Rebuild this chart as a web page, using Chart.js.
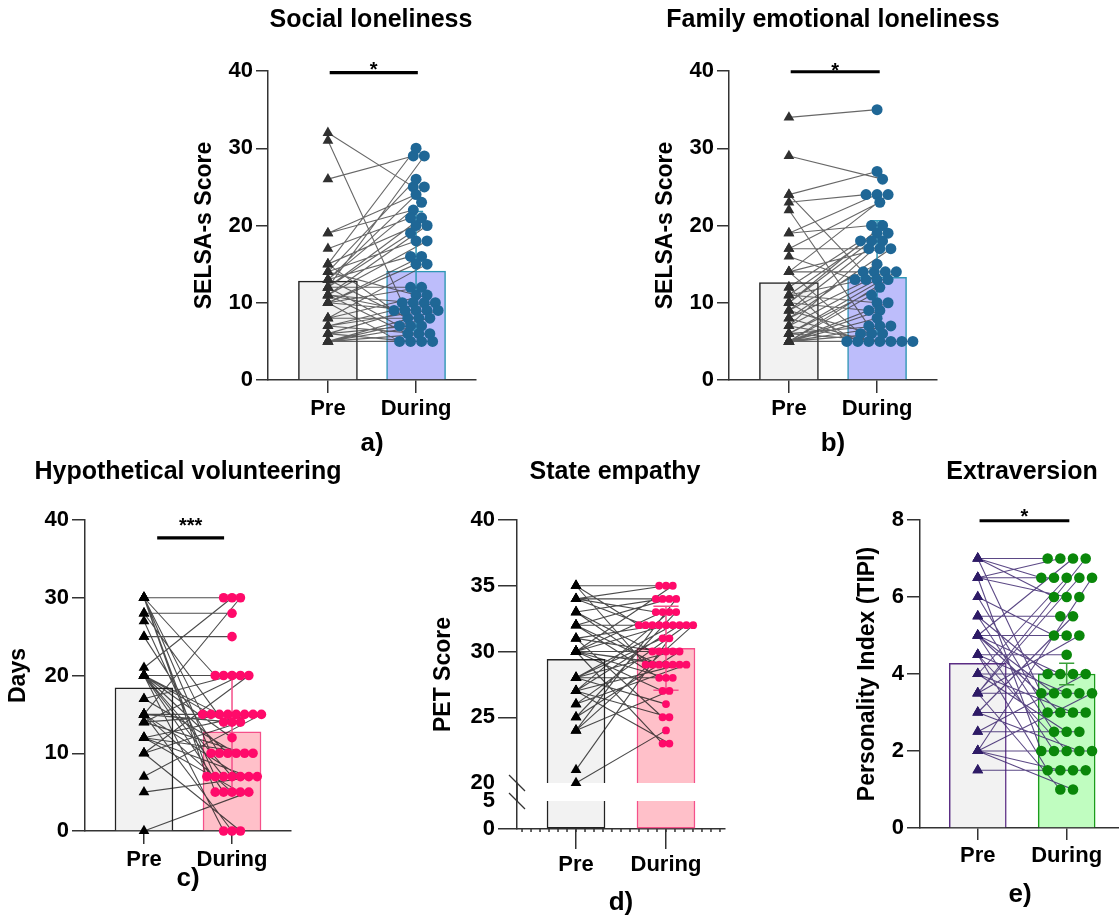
<!DOCTYPE html>
<html>
<head>
<meta charset="utf-8">
<script src="https://cdn.jsdelivr.net/npm/chart.js@4.4.1/dist/chart.umd.min.js"></script>
<style>
html,body{margin:0;padding:0;background:#fff;width:1119px;height:917px;overflow:hidden;position:relative;}
canvas{position:absolute;}
</style>
</head>
<body>
<canvas id="ca"></canvas>
<canvas id="cb"></canvas>
<canvas id="cc"></canvas>
<canvas id="cd"></canvas>
<canvas id="ce"></canvas>
<script>
// ---------------- DATA ----------------
const categories = ['Pre', 'During'];

// a) Social loneliness (paired: socialPre[i] -> socialDuring[i])
const socialPre    = [32,31,26,19,19,17,15,15,15,14,14,14,13,13,13,13,12,12,12,12,12,11,11,11,11,11,10,10,10,10,10,8,8,8,7,7,7,6,6,6,5,5,5,5,5,5];
const socialDuring = [25,10,29,24,22,21,30,20,9,26,18,11,25,23,8,16,29,21,19,7,12,20,18,10,6,9,16,15,9,5,12,15,11,8,10,9,6,10,7,5,8,7,6,9,5,5];
const socialMeans  = [12.8, 14.1];
const socialErr    = [null, 7.7];
const socialSig    = [0.02, 1.02, 39.8];

// b) Family emotional loneliness
const familyPre    = [34,29,24,24,23,22,19,19,17,17,16,14,14,14,14,12,12,11,11,11,10,10,10,10,9,9,9,8,8,8,7,7,7,6,6,6,6,5,5,5,5,5,5,5,5,5];
const familyDuring = [35,26,27,14,24,7,24,20,17,23,13,17,14,24,6,18,5,19,13,10,20,18,9,5,19,15,6,17,14,5,18,13,5,14,12,7,5,13,11,10,9,8,7,6,5,5];
const familyMeans  = [12.6, 13.3];
const familyErr    = [null, 7.3];
const familySig    = [0.02, 1.03, 39.9];

// c) Hypothetical volunteering (days)
const volPre    = [30,30,30,30,30,30,28,28,27,25,25,21,20,20,20,20,20,20,20,20,20,17,17,15,15,15,15,15,15,15,14,14,14,12,12,12,12,10,10,10,7,5,0];
const volDuring = [30,20,15,10,7,5,28,14,7,25,10,30,20,15,15,10,7,7,5,0,12,20,10,30,15,15,14,7,5,0,20,15,10,15,7,10,5,20,14,0,15,7,5];
const volMeans  = [18.4, 12.75];
const volErr    = [null, 7.4];
const volSig    = [0.15, 0.91, 37.7];

// d) State empathy (PET score)
const empPre    = [35,35,35,34,34,34,34,33,33,33,32,32,32,32,31,31,31,30,30,30,30,30,30,30,30,30,28,28,28,28,28,27,27,27,27,27,26,26,25,25,24,24,24,21,20];
const empDuring = [35,29,32,34,35,32,33,34,29,30,32,34,28,29,30,32,25,35,33,32,30,29,29,28,27,23,32,30,28,31,26,33,29,25,23,32,32,29,33,30,27,32,34,31,24];
const empMeans  = [29.4, 30.25];
const empErr    = [null, 3.2];

// e) Extraversion (TIPI)
const extraPre    = [7,7,7,7,6.5,6.5,6.5,6.5,6,6,5.5,5.5,5.5,5,5,5,5,5,5,4.5,4.5,4.5,4.5,4,4,4,4,3.5,3.5,3.5,3.5,3.5,3,3,3,2.5,2.5,2,2,2,2,2,2,1.5,1.5];
const extraDuring = [7,6.5,6,3.5,6.5,7,6,2,5,3,5.5,4,2.5,5,7,4,3.5,3,2,4.5,3.5,2,1.5,4,6.5,3,2.5,3.5,6.5,7,5,1,3,5.5,2,2.5,4,2,6.5,6,3.5,1.5,1,1.5,1.5];
const extraMeans  = [4.28, 4.0];
const extraErr    = [null, 0.28];
const extraSig    = [0.02, 1.03, 7.98];

// ---------------- LAYOUT / STYLE ----------------
const FAM = "'Liberation Sans', Arial, Helvetica, sans-serif";
Chart.defaults.font.family = FAM;
Chart.defaults.animation = false;

const panels = [
  {id:'ca', left:191, top:0, w:360, h:459, yW:77, padR:75, xH:79, ytl:12, xtl:13, titlePad:{top:5,bottom:36},
   title:'Social loneliness', yTitle:'SELSA-s Score', letter:'a)',
   pre:socialPre, during:socialDuring, means:socialMeans, err:socialErr, sig:socialSig, star:'*', starGap:7,
   xMin:-0.68, xMax:1.68, yMin:0, yMax:40, yStep:10, spacing:11, pxPerY:7.725, pxPerX:88, dotR:5.5, triR:6.2, cap:0.08, barW:59,
   colors:{preFill:'#f2f2f2', preBorder:'#222', durFill:'#bdbdfb', durBorder:'#2f97b5', tri:'#303030', dot:'#1f6796', line:'rgba(60,60,60,0.78)', err:'#2f97b5'}},
  {id:'cb', left:652, top:0, w:362, h:459, yW:77, padR:77, xH:79, ytl:12, xtl:13, titlePad:{top:5,bottom:36},
   title:'Family emotional loneliness', yTitle:'SELSA-s Score', letter:'b)',
   pre:familyPre, during:familyDuring, means:familyMeans, err:familyErr, sig:familySig, star:'*', starGap:5,
   xMin:-0.68, xMax:1.68, yMin:0, yMax:40, yStep:10, spacing:11, pxPerY:7.725, pxPerX:88, dotR:5.5, triR:6.2, cap:0.08, barW:59,
   colors:{preFill:'#f2f2f2', preBorder:'#222', durFill:'#bdbdfb', durBorder:'#2f97b5', tri:'#303030', dot:'#1f6796', line:'rgba(60,60,60,0.78)', err:'#2f97b5'}},
  {id:'cc', left:5, top:452, w:366, h:442, yW:80, padR:80, xH:63, ytl:13, xtl:13, titlePad:{top:5,bottom:33},
   title:'Hypothetical volunteering', yTitle:'Days', letter:'c)',
   pre:volPre, during:volDuring, means:volMeans, err:volErr, sig:volSig, star:'***', starGap:16,
   xMin:-0.67, xMax:1.67, yMin:0, yMax:40, yStep:10, spacing:8.4, pxPerY:7.775, pxPerX:88, dotR:4.8, triR:6.2, cap:0.08, barW:58,
   colors:{preFill:'#f2f2f2', preBorder:'#222', durFill:'#ffc0c9', durBorder:'#f5508a', tri:'#000', dot:'#ff0a6a', line:'rgba(25,25,25,0.78)', err:'#f5508a'}},
  {id:'cd', left:430, top:452, w:370, h:466, yW:59, padR:75, xH:89, ytl:19, xtl:20, titlePad:{top:5,bottom:33},
   title:'State empathy', yTitle:'PET Score', letter:'d)', broken:true, breakHi:20, breakLo:5,
   pre:empPre, during:empDuring, means:empMeans, err:empErr, sig:null,
   xMin:-0.656, xMax:1.656, yMin:20, yMax:40, yStep:5, spacing:6.8, pxPerY:13.15, pxPerX:90, dotR:3.9, triR:6.2, cap:0.14, barW:58,
   colors:{preFill:'#f2f2f2', preBorder:'#222', durFill:'#ffc0c9', durBorder:'#f5508a', tri:'#000', dot:'#ff0a6a', line:'rgba(25,25,25,0.78)', err:'#f5508a'}},
  {id:'ce', left:854, top:452, w:336, h:458, yW:66, padR:70, xH:82, ytl:13, xtl:12, titlePad:{top:5,bottom:33},
   title:'Extraversion', yTitle:'Personality Index (TIPI)', letter:'e)',
   pre:extraPre, during:extraDuring, means:extraMeans, err:extraErr, sig:extraSig, star:'*', starGap:8,
   xMin:-0.65, xMax:1.6, yMin:0, yMax:8, yStep:2, spacing:12.7, pxPerY:38.5, pxPerX:89, dotR:5.3, triR:6.2, cap:0.085, barW:57,
   colors:{preFill:'#f2f2f2', preBorder:'#5b2d84', durFill:'#c0fdc0', durBorder:'#1c9c1c', tri:'#2e1b66', dot:'#0a870a', line:'rgba(62,40,112,0.85)', err:'#3aa03a'}}
];

// horizontal spreading of equal values (scatter "swarm"), computed from the data
function swarmOffsets(values, spacing, pxPerY, pxPerX) {
  const idx = values.map((v, i) => i).sort((a, b) => (values[b] - values[a]) || (a - b));
  const placed = [];
  const out = new Array(values.length).fill(0);
  let k = 0;
  while (k < idx.length) {
    let j = k;
    while (j < idx.length && values[idx[j]] === values[idx[k]]) j++;
    const n = j - k, y = values[idx[k]] * pxPerY;
    let best = null, bestCost = Infinity;
    for (const shift of [0, spacing / 2, -spacing / 2, spacing / 4, -spacing / 4]) {
      const xs = [];
      for (let i = 0; i < n; i++) xs.push((i - (n - 1) / 2) * spacing + shift);
      let cost = Math.abs(shift) * 0.05;
      for (const x of xs) for (const q of placed) {
        const d = Math.hypot(x - q.x, y - q.y);
        if (d < spacing) cost += spacing - d;
      }
      if (cost < bestCost - 1e-9) { bestCost = cost; best = xs; }
    }
    best.forEach((x, i) => { out[idx[k + i]] = x / pxPerX; placed.push({x, y}); });
    k = j;
  }
  return out;
}

function annotPlugin(p) {
  return {
    id: 'annot_' + p.id,
    afterDatasetsDraw(chart) {
      const ctx = chart.ctx, xs = chart.scales.x;
      ctx.save();
      if (p.sig) {
        const ys = chart.scales.y;
        const cx = (xs.getPixelForValue(p.sig[0]) + xs.getPixelForValue(p.sig[1])) / 2;
        const ly = ys.getPixelForValue(p.sig[2]);
        ctx.font = 'bold 20px ' + FAM;
        ctx.fillStyle = '#000';
        ctx.textAlign = 'center';
        ctx.textBaseline = 'alphabetic';
        const m = ctx.measureText(p.star);
        const target = ly - p.starGap;
        const base = target + (m.actualBoundingBoxAscent - m.actualBoundingBoxDescent) / 2;
        ctx.fillText(p.star, cx, base);
      }
      if (p.broken) {
        const yt = chart.scales.yTop, yb = chart.scales.yBot;
        const ax = yt.right;
        ctx.strokeStyle = '#333';
        ctx.lineWidth = 1.5;
        ctx.beginPath(); ctx.moveTo(ax, yt.bottom); ctx.lineTo(ax, yb.top); ctx.stroke();
        ctx.lineWidth = 1.3;
        [yt.getPixelForValue(p.breakHi), yb.getPixelForValue(p.breakLo)].forEach(py => {
          ctx.beginPath(); ctx.moveTo(ax - 8, py - 8); ctx.lineTo(ax + 8, py + 8); ctx.stroke();
        });
        const by = chart.chartArea.bottom;
        ctx.lineWidth = 1.5;
        for (let k = Math.ceil(p.xMin * 10); k <= Math.floor(p.xMax * 10); k++) {
          const px = xs.getPixelForValue(k / 10);
          ctx.beginPath(); ctx.moveTo(px, by); ctx.lineTo(px, by + 3); ctx.stroke();
        }
      }
      ctx.restore();
    }
  };
}

function buildPanel(p) {
  const cv = document.getElementById(p.id);
  cv.width = p.w; cv.height = p.h;
  cv.style.left = p.left + 'px'; cv.style.top = p.top + 'px';
  const c = p.colors;
  const yId = p.broken ? 'yTop' : 'y';
  const off = swarmOffsets(p.during, p.spacing, p.pxPerY, p.pxPerX);
  const durPts = p.during.map((v, i) => ({x: categories.indexOf('During') + off[i], y: v}));
  const prePts = p.pre.map(v => ({x: categories.indexOf('Pre'), y: v}));
  const pairs = [];
  p.pre.forEach((v, i) => {
    pairs.push({x: 0, y: v});
    pairs.push({x: 1 + off[i], y: p.during[i]});
    pairs.push({x: 1, y: null});
  });
  const ds = [];
  const barBase = {type: 'bar', grouped: false, barThickness: p.barW,
    backgroundColor: [c.preFill, c.durFill], borderColor: [c.preBorder, c.durBorder], borderWidth: 1.5, order: 10};
  if (p.broken) {
    ds.push(Object.assign({}, barBase, {yAxisID: 'yTop', borderSkipped: 'bottom',
      data: p.means.map((m, k) => ({x: k, y: [p.breakHi, m]}))}));
    ds.push(Object.assign({}, barBase, {yAxisID: 'yBot', borderSkipped: 'top',
      data: p.means.map((m, k) => ({x: k, y: [0, p.breakLo]}))}));
  } else {
    ds.push(Object.assign({}, barBase, {yAxisID: 'y', borderSkipped: 'bottom',
      data: p.means.map((m, k) => ({x: k, y: m}))}));
  }
  ds.push({type: 'line', yAxisID: yId, data: pairs, borderColor: c.line, borderWidth: 1.1,
    pointRadius: 0, spanGaps: false, tension: 0, order: 8, clip: false});
  const errData = [];
  p.means.forEach((m, k) => {
    const e = p.err[k];
    if (e == null) return;
    errData.push({x: k, y: m - e}, {x: k, y: m + e}, {x: k, y: null},
      {x: k - p.cap, y: m + e}, {x: k + p.cap, y: m + e}, {x: k, y: null},
      {x: k - p.cap, y: m - e}, {x: k + p.cap, y: m - e}, {x: k, y: null});
  });
  ds.push({type: 'line', yAxisID: yId, data: errData, borderColor: c.err, borderWidth: 1.5,
    pointRadius: 0, spanGaps: false, tension: 0, order: 7, clip: false});
  ds.push({type: 'scatter', yAxisID: yId, data: prePts, pointStyle: 'triangle', pointRadius: p.triR,
    pointBackgroundColor: c.tri, pointBorderColor: c.tri, pointBorderWidth: 0, order: 5, clip: false});
  ds.push({type: 'scatter', yAxisID: yId, data: durPts, pointStyle: 'circle', pointRadius: p.dotR,
    pointBackgroundColor: c.dot, pointBorderColor: c.dot, pointBorderWidth: 0, order: 4, clip: false});
  if (p.sig) {
    ds.push({type: 'line', yAxisID: 'y', data: [{x: p.sig[0], y: p.sig[2]}, {x: p.sig[1], y: p.sig[2]}],
      borderColor: '#000', borderWidth: 3.2, pointRadius: 0, order: 1, clip: false});
  }

  const tickFont = {size: 22, weight: 'bold'};
  const axisGrid = (tl, hideVal) => ({drawOnChartArea: false, offset: false, tickLength: tl, lineWidth: 1.5,
    color: ctx => (hideVal != null && ctx.tick && ctx.tick.value === hideVal) ? 'rgba(0,0,0,0)' : '#333'});
  const axisBorder = {display: true, color: '#333', width: 1.5};
  const yTitleOpt = {display: true, text: p.yTitle, font: {size: 23, weight: 'bold'}, color: '#000', padding: 0};

  const scales = {
    x: {type: 'linear', position: 'bottom', min: p.xMin, max: p.xMax, offset: false,
      afterBuildTicks: s => { s.ticks = [{value: 0}, {value: 1}]; },
      afterFit: s => { s.height = p.xH; },
      ticks: {font: tickFont, color: '#000', padding: 3, maxRotation: 0, autoSkip: false,
        callback: v => categories[v]},
      grid: axisGrid(p.xtl, null),
      border: axisBorder,
      title: {display: true, text: p.letter, font: {size: 26, weight: 'bold'}, color: '#000', padding: 0}},
    yPad: {type: 'linear', position: 'right', display: true,
      afterFit: s => { s.width = p.padR; },
      ticks: {display: false}, grid: {display: false}, border: {display: false}}
  };
  if (p.broken) {
    scales.yTitle = {type: 'linear', position: 'left', weight: 10,
      afterFit: s => { s.width = 28; },
      ticks: {display: false}, grid: {display: false}, border: {display: false}, title: yTitleOpt};
    scales.yTop = {type: 'linear', position: 'left', stack: 'pet', stackWeight: 263, weight: 3,
      min: p.breakHi, max: p.yMax, beginAtZero: false,
      afterFit: s => { s.width = p.yW; },
      ticks: {stepSize: p.yStep, font: tickFont, color: '#000', padding: 3, autoSkip: false},
      grid: axisGrid(p.ytl, p.breakHi), border: axisBorder};
    scales.yGap = {type: 'linear', position: 'left', stack: 'pet', stackWeight: 18, weight: 2,
      min: 0, max: 1, afterFit: s => { s.width = p.yW; },
      ticks: {display: false}, grid: {display: false}, border: axisBorder};
    scales.yBot = {type: 'linear', position: 'left', stack: 'pet', stackWeight: 28, weight: 1,
      min: 0, max: p.breakLo, afterFit: s => { s.width = p.yW; },
      ticks: {stepSize: p.breakLo, font: tickFont, color: '#000', padding: 3, autoSkip: false},
      grid: axisGrid(p.ytl, p.breakLo), border: axisBorder};
  } else {
    scales.y = {type: 'linear', position: 'left', min: p.yMin, max: p.yMax,
      afterFit: s => { s.width = p.yW; },
      ticks: {stepSize: p.yStep, font: tickFont, color: '#000', padding: 3},
      grid: axisGrid(p.ytl, null), border: axisBorder, title: yTitleOpt};
  }

  return new Chart(cv, {
    type: 'bar',
    data: {datasets: ds},
    options: {
      responsive: false,
      animation: false,
      events: [],
      layout: {padding: 0},
      scales,
      plugins: {
        legend: {display: false},
        tooltip: {enabled: false},
        title: {display: true, text: p.title, fullSize: true, align: 'center', color: '#000',
          font: {size: 25, weight: 'bold'}, padding: p.titlePad}
      }
    },
    plugins: [annotPlugin(p)]
  });
}

panels.forEach(buildPanel);
</script>
</body>
</html>
